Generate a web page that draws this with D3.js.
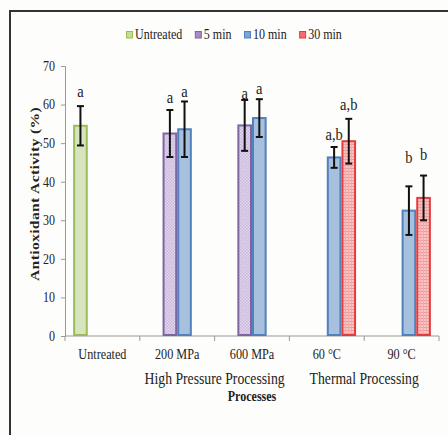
<!DOCTYPE html>
<html>
<head>
<meta charset="utf-8">
<script src="https://cdn.jsdelivr.net/npm/d3@7"></script>
<style>
  html, body { margin: 0; padding: 0; background: #fdfdfb; }
  svg { display: block; font-family: "Liberation Serif", "DejaVu Serif", serif; }
</style>
</head>
<body>
<svg id="chart" width="448" height="435"></svg>
<script>
// Chart data
var categories = ["Untreated", "200 MPa", "600 MPa", "60 \u00B0C", "90 \u00B0C"];
var seriesNames = ["Untreated", "5 min", "10 min", "30 min"];
var groups = [
  { name: "High Pressure Processing", from: 1, to: 2 },
  { name: "Thermal Processing", from: 3, to: 4 }
];
var yTicks = [0, 10, 20, 30, 40, 50, 60, 70];

// values per series (null = no bar)
var untreatedVals = [54.5, null, null, null, null];
var min5Vals      = [null, 52.5, 54.6, null, null];
var min10Vals     = [null, 53.6, 56.5, 46.3, 32.5];
var min30Vals     = [null, null, null, 50.5, 35.8];

// error (+/-)
var untreatedErr = [5.1, null, null, null, null];
var min5Err      = [null, 6.1, 6.6, null, null];
var min10Err     = [null, 7.2, 4.9, 2.7, 6.3];
var min30Err     = [null, null, null, 5.8, 5.8];

// significance letters and their height (data units)
var untreatedLetters = ["a", null, null, null, null];
var min5Letters      = [null, "a", "a", null, null];
var min10Letters     = [null, "a", "a", "a,b", "b"];
var min30Letters     = [null, null, null, "a,b", "b"];
var untreatedLetterY = [63.0, null, null, null, null];
var min5LetterY      = [null, 61.4, 62.4, null, null];
var min10LetterY     = [null, 63.0, 63.7, 51.8, 45.9];
var min30LetterY     = [null, null, null, 59.6, 46.6];

var seriesVals = [untreatedVals, min5Vals, min10Vals, min30Vals];
var seriesErr = [untreatedErr, min5Err, min10Err, min30Err];
var seriesLetters = [untreatedLetters, min5Letters, min10Letters, min30Letters];
var seriesLetterY = [untreatedLetterY, min5LetterY, min10LetterY, min30LetterY];

var strokeCols = ["#9bbb59", "#8064a2", "#4f81bd", "#e63b3b"];
var fillCols = ["#d7e4bd", "url(#purplePat)", "#a7c0de", "url(#redPat)"];
var legendFill = ["#c4dd8e", "#a58cc4", "#7fa3d2", "#f07070"];
var STRETCH = 1.2; // the original text is drawn tall and narrow

var svg = d3.select("#chart");

// place a text at (px,py) with the vertical stretch
function tallText(sel, px, py, size) {
  return sel.append("text")
    .attr("transform", "translate(" + px + "," + py + ") scale(1," + STRETCH + ")")
    .attr("font-size", size).attr("fill", "#222");
}

// patterns
var defs = svg.append("defs");
var pp = defs.append("pattern").attr("id", "purplePat")
  .attr("patternUnits", "userSpaceOnUse").attr("width", 3).attr("height", 3);
pp.append("rect").attr("width", 3).attr("height", 3).attr("fill", "#e4d8ee");
pp.append("rect").attr("width", 1.5).attr("height", 1.5).attr("fill", "#c9b6dc");
pp.append("rect").attr("x", 1.5).attr("y", 1.5).attr("width", 1.5).attr("height", 1.5).attr("fill", "#c9b6dc");
var rp = defs.append("pattern").attr("id", "redPat")
  .attr("patternUnits", "userSpaceOnUse").attr("width", 3).attr("height", 3);
rp.append("rect").attr("width", 3).attr("height", 3).attr("fill", "#f8c4c4");
rp.append("rect").attr("width", 3).attr("height", 1).attr("fill", "#f09a9a");
rp.append("rect").attr("width", 1).attr("height", 3).attr("fill", "#f3acac");

// frame
svg.append("path")
  .attr("d", "M10,435 V11 H448")
  .attr("fill", "none").attr("stroke", "#333").attr("stroke-width", 2);

// scales
var x = d3.scaleBand().domain(categories).range([65, 439]).padding(0);
var xs = d3.scaleBand().domain(seriesNames).range([0, x.bandwidth()])
  .paddingInner(0).paddingOuter(0.555);
var y = d3.scaleLinear().domain([0, 70]).range([336, 66]);

// y axis (tick marks from d3, labels drawn tall)
var yAxis = svg.append("g").attr("transform", "translate(65,0)")
  .call(d3.axisLeft(y).tickValues(yTicks).tickSize(4).tickFormat(""));
yAxis.select(".domain").attr("stroke", "#999").attr("stroke-width", 1);
yAxis.selectAll(".tick line").attr("stroke", "#999");
yTicks.forEach(function(t) {
  tallText(svg, 55, y(t) + 4.8, 12).attr("text-anchor", "end").text(t);
});

// x axis line + category ticks
svg.append("line").attr("x1", 65).attr("x2", 439).attr("y1", y(0)).attr("y2", y(0))
  .attr("stroke", "#999").attr("stroke-width", 1.2);
var bounds = categories.map(function(c) { return x(c); }).concat([x(categories[4]) + x.bandwidth()]);
svg.selectAll(".ctick").data(bounds).enter().append("line")
  .attr("x1", function(d) { return d; }).attr("x2", function(d) { return d; })
  .attr("y1", y(0)).attr("y2", y(0) + 5)
  .attr("stroke", "#999");

// bars
var bars = [];
seriesNames.forEach(function(s, si) {
  categories.forEach(function(c, ci) {
    var v = seriesVals[si][ci];
    if (v == null) return;
    bars.push({ s: s, si: si, c: c, v: v, e: seriesErr[si][ci],
      letter: seriesLetters[si][ci], ly: seriesLetterY[si][ci] });
  });
});

var bx = function(d) { return x(d.c) + xs(d.s); };
var bw = xs.bandwidth();

svg.selectAll(".bar").data(bars).enter().append("rect")
  .attr("x", function(d) { return bx(d) + 1; })
  .attr("y", function(d) { return y(d.v); })
  .attr("width", bw - 2)
  .attr("height", function(d) { return y(0) - y(d.v) - 1; })
  .attr("fill", function(d) { return fillCols[d.si]; })
  .attr("stroke", function(d) { return strokeCols[d.si]; })
  .attr("stroke-width", 2);

// error bars
var eb = svg.selectAll(".err").data(bars).enter().append("g")
  .attr("stroke", "#111").attr("stroke-width", 2);
eb.append("line")
  .attr("x1", function(d) { return bx(d) + bw / 2; })
  .attr("x2", function(d) { return bx(d) + bw / 2; })
  .attr("y1", function(d) { return y(d.v + d.e); })
  .attr("y2", function(d) { return y(d.v - d.e); });
[1, -1].forEach(function(sg) {
  eb.append("line")
    .attr("x1", function(d) { return bx(d) + bw / 2 - 3.5; })
    .attr("x2", function(d) { return bx(d) + bw / 2 + 3.5; })
    .attr("y1", function(d) { return y(d.v + sg * d.e); })
    .attr("y2", function(d) { return y(d.v + sg * d.e); });
});

// letters
bars.forEach(function(d) {
  tallText(svg, bx(d) + bw / 2, y(d.ly) + 4, 14.5)
    .attr("text-anchor", "middle").text(d.letter);
});

// category labels
categories.forEach(function(c) {
  tallText(svg, x(c) + x.bandwidth() / 2, 359, 12.2)
    .attr("text-anchor", "middle").text(c);
});

// group labels
groups.forEach(function(g) {
  var gx = (x(categories[g.from]) + x(categories[g.to]) + x.bandwidth()) / 2;
  tallText(svg, gx, 384, 13.7).attr("text-anchor", "middle").text(g.name);
});

// axis titles
tallText(svg, 252, 401, 12)
  .attr("text-anchor", "middle").attr("font-weight", "bold")
  .text("Processes");

svg.append("text")
  .attr("transform", "translate(39,194) scale(1," + STRETCH + ") rotate(-90)")
  .attr("text-anchor", "middle").attr("font-size", 13).attr("font-weight", "bold")
  .attr("letter-spacing", 0.3).attr("fill", "#222")
  .text("Antioxidant Activity (%)");

// legend
var lg = svg.append("g").attr("transform", "translate(126,39)");
var lx = 0;
seriesNames.forEach(function(s, i) {
  var it = lg.append("g").attr("transform", "translate(" + lx + ",0)");
  it.append("rect").attr("x", 0.5).attr("y", -7.5).attr("width", 6).attr("height", 6.5)
    .attr("fill", legendFill[i]).attr("stroke", strokeCols[i]).attr("stroke-width", 1);
  var t = tallText(it, 9, 0, 12).text(s);
  lx += 9 + t.node().getComputedTextLength() + 12.5;
});
</script>
</body>
</html>
